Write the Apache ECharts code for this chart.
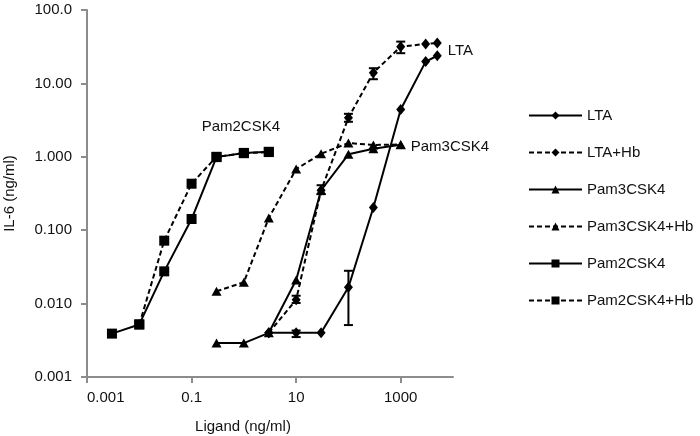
<!DOCTYPE html>
<html><head><meta charset="utf-8">
<script src="https://cdn.jsdelivr.net/npm/echarts@6/dist/echarts.min.js"></script>
<style>html,body{margin:0;padding:0;background:#fff}#c{width:700px;height:436px}</style>
</head><body><div id="c"></div>
<script>
// ---- data ----
const xTicks = [0.001, 0.1, 10, 1000];
const yTicks = [0.001, 0.01, 0.1, 1, 10, 100];

const ltaX = [3, 10, 30, 100, 300, 1000, 3000, 5000];
const ltaY = [0.004, 0.004, 0.004, 0.0167, 0.204, 4.4, 19.8, 23.8];
const ltaHbX = [3, 10, 30, 100, 300, 1000, 3000, 5000];
const ltaHbY = [0.004, 0.0113, 0.35, 3.4, 14, 31.6, 34.5, 35.5];
const pam3X = [0.3, 1, 3, 10, 30, 100, 300, 1000];
const pam3Y = [0.0029, 0.0029, 0.004, 0.021, 0.35, 1.08, 1.29, 1.46];
const pam3HbX = [0.3, 1, 3, 10, 30, 100, 300, 1000];
const pam3HbY = [0.0147, 0.0195, 0.147, 0.68, 1.1, 1.54, 1.45, 1.47];
const pam2X = [0.003, 0.01, 0.03, 0.1, 0.3, 1, 3];
const pam2Y = [0.0039, 0.0052, 0.0275, 0.142, 0.99, 1.13, 1.17];
const pam2HbX = [0.01, 0.03, 0.1, 0.3, 1, 3];
const pam2HbY = [0.0052, 0.072, 0.43, 1.0, 1.12, 1.16];

// error bars: x, low, high
const errX    = [10, 100, 10, 30, 100, 300, 1000];
const errLow  = [0.0035, 0.0051, 0.0102, 0.31, 3.0, 11.4, 25.8];
const errHigh = [0.0043, 0.028, 0.0128, 0.41, 3.85, 16.1, 37.1];

const names = ['LTA', 'LTA+Hb', 'Pam3CSK4', 'Pam3CSK4+Hb', 'Pam2CSK4', 'Pam2CSK4+Hb'];
// ---- chart ----
const FONT = 'Liberation Sans';
const pairs = (xs, ys) => xs.map((x, i) => [x, ys[i]]);
const dash = [5, 3];

function lineSeries(name, data, symbol, size, dashed, labelIdx, labelOpt) {
  const d = data.map((p, i) => (i === labelIdx ? { value: p, label: labelOpt } : p));
  return {
    name, type: 'line', data: d, symbol, symbolSize: size,
    showSymbol: true, animation: false,
    itemStyle: { color: '#000' },
    lineStyle: { color: '#000', width: 2, type: dashed ? dash : 'solid' },
    label: { show: false },
    z: 3
  };
}
const lab = (text, pos, offset) => ({
  show: true, formatter: text, position: pos, offset,
  color: '#111', fontSize: 15, fontFamily: FONT
});

const chart = echarts.init(document.getElementById('c'));
chart.setOption({
  animation: false,
  backgroundColor: '#fff',
  grid: { left: 87, right: 247, top: 10, bottom: 59, containLabel: false, outerBoundsMode: 'none' },
  legend: {
    orient: 'vertical', left: 523, top: 103,
    itemWidth: 53, itemHeight: 10, itemGap: 22,
    data: names,
    textStyle: { fontSize: 15, fontFamily: FONT, color: '#111' }
  },
  xAxis: {
    type: 'log', logBase: 10, min: 0.001, max: 10000,
    name: 'Ligand (ng/ml)', nameLocation: 'middle', nameGap: 42,
    nameTextStyle: { fontSize: 15, fontFamily: FONT, color: '#111', padding: [0, 54, 0, 0] },
    axisLine: { lineStyle: { color: '#8c8c8c', width: 2 } },
    axisTick: { show: true, length: 6, customValues: xTicks, lineStyle: { color: '#8c8c8c', width: 2 } },
    axisLabel: { customValues: xTicks, margin: 13, fontSize: 15, fontFamily: FONT, color: '#111',
      alignMinLabel: 'left',
      formatter: v => String(+v.toPrecision(6)) },
    splitLine: { show: false }
  },
  yAxis: {
    type: 'log', logBase: 10, min: 0.001, max: 100,
    name: 'IL-6 (ng/ml)', nameLocation: 'middle', nameGap: 70,
    nameTextStyle: { fontSize: 15, fontFamily: FONT, color: '#111' },
    axisLine: { show: true, lineStyle: { color: '#8c8c8c', width: 2 } },
    axisTick: { show: true, length: 6, customValues: yTicks, lineStyle: { color: '#8c8c8c', width: 2 } },
    axisLabel: { customValues: yTicks, margin: 15, fontSize: 15, fontFamily: FONT, color: '#111',
      formatter: v => (v >= 1 ? Number(v).toPrecision(4) : Number(v).toFixed(3)) },
    splitLine: { show: false }
  },
  series: [
    lineSeries('LTA', pairs(ltaX, ltaY), 'diamond', [9, 11], false),
    lineSeries('LTA+Hb', pairs(ltaHbX, ltaHbY), 'diamond', [9, 11], true, ltaHbX.length - 1, lab('LTA', 'right', [1, 8])),
    lineSeries('Pam3CSK4', pairs(pam3X, pam3Y), 'triangle', [10, 9], false),
    lineSeries('Pam3CSK4+Hb', pairs(pam3HbX, pam3HbY), 'triangle', [10, 9], true, pam3HbX.length - 1, lab('Pam3CSK4', 'right', [0, 2])),
    lineSeries('Pam2CSK4', pairs(pam2X, pam2Y), 'rect', 10, false, 5, lab('Pam2CSK4', 'top', [-3, -9])),
    lineSeries('Pam2CSK4+Hb', pairs(pam2HbX, pam2HbY), 'rect', 10, true),
    {
      type: 'custom', name: 'err', animation: false, z: 4,
      data: errX.map((x, i) => [x, errLow[i], errHigh[i]]),
      renderItem: (params, api) => {
        const lo = api.coord([api.value(0), api.value(1)]);
        const hi = api.coord([api.value(0), api.value(2)]);
        const w = 4.5;
        const st = { stroke: '#000', lineWidth: 2 };
        return { type: 'group', children: [
          { type: 'line', shape: { x1: lo[0], y1: lo[1], x2: hi[0], y2: hi[1] }, style: st },
          { type: 'line', shape: { x1: lo[0] - w, y1: lo[1], x2: lo[0] + w, y2: lo[1] }, style: st },
          { type: 'line', shape: { x1: hi[0] - w, y1: hi[1], x2: hi[0] + w, y2: hi[1] }, style: st }
        ]};
      }
    }
  ]
});
</script></body></html>
